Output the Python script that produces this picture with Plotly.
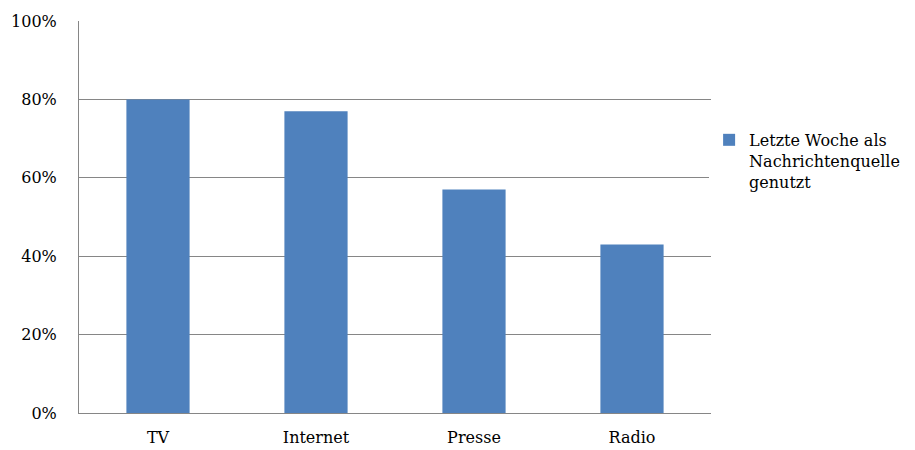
import plotly.graph_objects as go

categories = ["TV", "Internet", "Presse", "Radio"]
values = [80, 77, 57, 43]
series_name = "Letzte Woche als<br>Nachrichtenquelle<br>genutzt"
y_ticks = [0, 20, 40, 60, 80, 100]
y_tick_labels = ["0%", "20%", "40%", "60%", "80%", "100%"]

font_family = "DejaVu Serif"

fig = go.Figure()
fig.add_trace(go.Bar(
    x=categories, y=values, name=series_name,
    marker=dict(color="#4F81BD", line=dict(width=0)),
    width=0.4, showlegend=True,
))

# page body has an 8px margin, so the figure starts at (8, 8)
fig.update_layout(
    width=907, height=442,
    margin=dict(l=71, r=204, t=13, b=37, autoexpand=False),
    paper_bgcolor="white", plot_bgcolor="white",
    font=dict(family=font_family, size=16, color="#000000"),
    showlegend=True,
    legend=dict(x=0.997, y=0.74, xanchor="left", yanchor="top",
                valign="top", font=dict(size=16, family=font_family),
                itemwidth=30, tracegroupgap=0),
)
fig.update_xaxes(
    showgrid=False, showline=True, linecolor="#868686", linewidth=1,
    ticks="outside", ticklen=10, tickcolor="rgba(0,0,0,0)",
    range=[-0.5, 3.5], automargin=False,
)
fig.update_yaxes(
    range=[0, 100], tickvals=y_ticks, ticktext=y_tick_labels,
    showgrid=True, gridcolor="#868686", gridwidth=1,
    showline=True, linecolor="#868686", linewidth=1,
    ticks="outside", ticklen=18, tickcolor="rgba(0,0,0,0)",
    zeroline=False, automargin=False,
)
fig.write_html("out.html")
